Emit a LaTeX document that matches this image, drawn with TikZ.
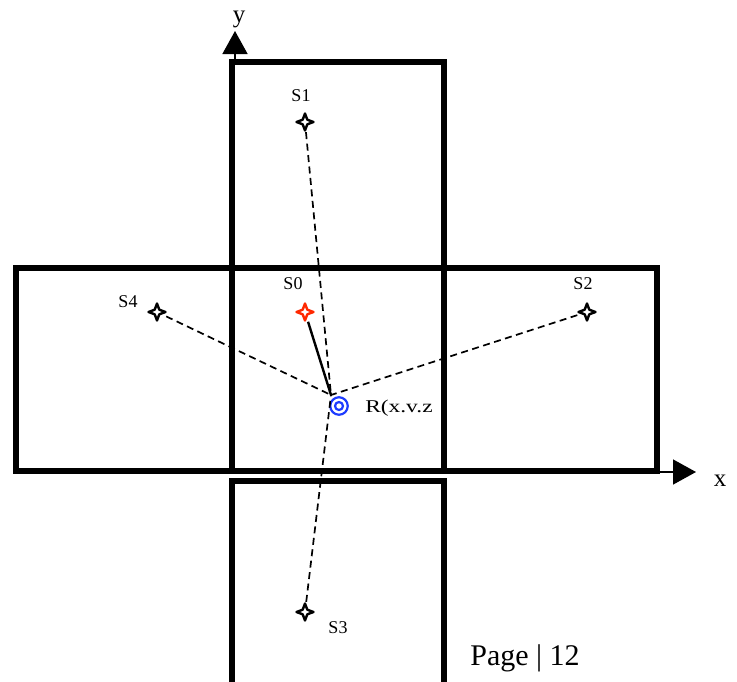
\documentclass[tikz,border=0pt]{standalone}
\usepackage{fontspec}
\setmainfont{Liberation Serif}
\usetikzlibrary{arrows.meta}
\definecolor{srcred}{RGB}{255,40,0}
\definecolor{rblue}{RGB}{30,60,255}
\tikzset{
  boxline/.style={line width=6.7pt, line join=miter, line cap=rect},
  axisline/.style={line width=1.5pt, -{Triangle[length=23pt,width=25pt]}},
  srcnode/.style={circle, inner sep=0pt, minimum size=20pt},
  rayline/.style={line width=1.7pt, dash pattern=on 7pt off 4.5pt},
  mainray/.style={line width=2.4pt},
  lbl/.style={inner sep=0pt, font=\fontsize{18}{18}\selectfont},
  axlbl/.style={inner sep=0pt, font=\fontsize{25}{25}\selectfont},
  pics/fourstar/.style={code={
    \filldraw[fill=white, draw=#1, line width=2.4pt, line join=round]
      (0,-8.5) -- (2.3,-2.3) -- (8.5,0) -- (2.3,2.3) -- (0,8.5) -- (-2.3,2.3) -- (-8.5,0) -- (-2.3,-2.3) -- cycle;
  }}
}
\begin{document}
\begin{tikzpicture}[x=1pt,y=-1pt]
\useasboundingbox (0,0) rectangle (737,681);
\clip (0,0) rectangle (737,681);
% boxes
\draw[boxline] (232,62) rectangle (444,268);
\draw[boxline] (16,268) rectangle (232,471);
\draw[boxline] (232,268) rectangle (444,471);
\draw[boxline] (444,268) rectangle (657,471);
\draw[boxline] (232,700) -- (232,481) -- (444,481) -- (444,700);
% axes
\coordinate (yfoot) at (235,62);
\coordinate (ytip) at (235,31);
\coordinate (xfoot) at (657,472);
\coordinate (xtip) at (696,472);
\draw[axisline] (yfoot) -- (ytip);
\draw[axisline] (xfoot) -- (xtip);
\node[axlbl] (ylab) at (239,19) {y};
\node[axlbl] (xlab) at (720,481) {x};
% sources
\node[srcnode] (s1) at (305,122) {};
\node[srcnode] (s0) at (305,312) {};
\node[srcnode] (s4) at (157,312) {};
\node[srcnode] (s2) at (587,312) {};
\node[srcnode] (s3) at (305,612) {};
\coordinate (j) at (331,395);
\node[circle, draw=rblue, line width=2.2pt, minimum size=17.5pt, inner sep=0pt] (r) at (339,406) {};
\node[circle, draw=rblue, line width=2.2pt, minimum size=8pt, inner sep=0pt] (rin) at (339,406) {};
% rays
\draw[rayline] (s1) -- (j);
\draw[rayline] (s4) -- (j);
\draw[rayline] (s2) -- (j);
\draw[rayline] (s3) -- (j);
\draw[mainray] (s0) -- (j);
% stars
\pic at (s1) {fourstar=black};
\pic at (s4) {fourstar=black};
\pic at (s2) {fourstar=black};
\pic at (s3) {fourstar=black};
\pic at (s0) {fourstar=srcred};
% labels
\node[lbl] (l1) at (301,96) {S1};
\node[lbl] (l0) at (293,284) {S0};
\node[lbl] (l4) at (128,302) {S4};
\node[lbl] (l2) at (583,284) {S2};
\node[lbl] (l3) at (338,628) {S3};
\node[lbl, anchor=west, xscale=1.3, transform shape] (lr) at (365,408) {R(x.v.z};
\node[inner sep=0pt, font=\fontsize{30}{30}\selectfont] (pg) at (525,658) {Page | 12};
\end{tikzpicture}
\end{document}
